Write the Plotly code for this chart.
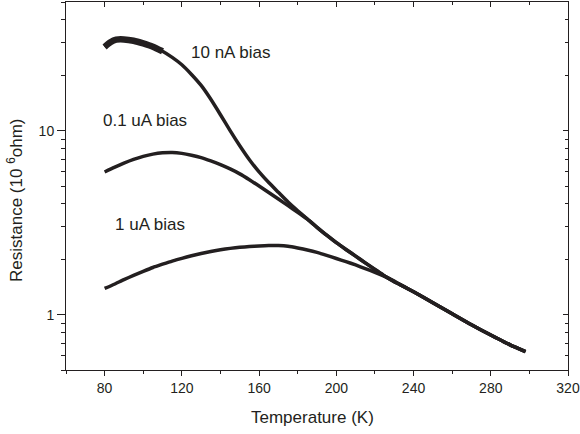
import math
import plotly.graph_objects as go

# ---- data ----
T_10nA = [80, 83, 86, 90, 95, 100, 105, 110, 115, 120, 125, 130, 135, 140, 145,
          150, 155, 160, 165, 170, 175, 180, 185, 190, 195, 200, 205, 210, 215,
          220, 225, 230, 235, 240, 250, 260, 270, 280, 290, 298]
R_10nA = [28.5, 30.2, 31.2, 31.3, 30.8, 29.8, 28.6, 27.0, 25.0, 22.8, 20.2, 17.6,
          14.8, 12.2, 10.0, 8.28, 6.95, 5.96, 5.22, 4.62, 4.09, 3.67, 3.31, 2.98,
          2.70, 2.46, 2.26, 2.08, 1.91, 1.76, 1.62, 1.51, 1.42, 1.33, 1.16, 1.01,
          0.88, 0.775, 0.685, 0.63]

T_01uA = [80, 85, 90, 95, 100, 105, 110, 115, 120, 125, 130, 135, 140, 145, 150,
          155, 160, 165, 170, 175, 180, 185, 190, 195, 200, 205, 210, 215, 220,
          225, 230, 235, 240, 250, 260, 270, 280, 290, 298]
R_01uA = [5.96, 6.31, 6.65, 6.97, 7.24, 7.45, 7.57, 7.60, 7.52, 7.35, 7.13, 6.84,
          6.53, 6.19, 5.82, 5.41, 5.00, 4.61, 4.25, 3.91, 3.60, 3.30, 2.98, 2.70,
          2.46, 2.26, 2.08, 1.91, 1.76, 1.62, 1.51, 1.42, 1.33, 1.16, 1.01, 0.88,
          0.775, 0.685, 0.63]

T_1uA = [80, 85, 90, 95, 100, 105, 110, 115, 120, 125, 130, 135, 140, 145, 150,
         155, 160, 165, 170, 175, 180, 185, 190, 195, 200, 205, 210, 215, 220,
         225, 230, 235, 240, 250, 260, 270, 280, 290, 298]
R_1uA = [1.387, 1.462, 1.549, 1.633, 1.718, 1.803, 1.879, 1.954, 2.023, 2.089,
         2.148, 2.203, 2.249, 2.291, 2.323, 2.344, 2.360, 2.371, 2.371, 2.350,
         2.301, 2.244, 2.178, 2.099, 2.018, 1.941, 1.862, 1.778, 1.698, 1.614,
         1.524, 1.42, 1.33, 1.16, 1.01, 0.88, 0.775, 0.685, 0.63]

x_ticks = [80, 120, 160, 200, 240, 280, 320]
y_ticks = [1, 10]
y_tick_text = ["1", "10"]
y_minor = [0.5, 0.6, 0.7, 0.8, 0.9, 2, 3, 4, 5, 6, 7, 8, 9, 20, 30, 40, 50]

labels = ["10 nA bias", "0.1 uA bias", "1 uA bias"]
label_T = [145.2, 101.0, 103.5]
label_R = [26.7, 11.33, 3.07]

INK = "#231f20"
FONT = "Liberation Sans, Arial, Helvetica, sans-serif"

fig = go.Figure()
for T, R in [(T_10nA, R_10nA), (T_01uA, R_01uA), (T_1uA, R_1uA)]:
    fig.add_trace(go.Scatter(x=T, y=R, mode="lines",
                             line=dict(color=INK, width=3.5, shape="spline", smoothing=0.5),
                             showlegend=False, hoverinfo="skip"))
# the noisy low-temperature part of the 10 nA trace is drawn as a wider band
fig.add_trace(go.Scatter(x=T_10nA[:8], y=R_10nA[:8], mode="lines",
                         line=dict(color=INK, width=6.5, shape="spline", smoothing=0.5),
                         showlegend=False, hoverinfo="skip"))
# dummy trace for mirrored axes
fig.add_trace(go.Scatter(x=[None], y=[None], xaxis="x2", yaxis="y2",
                         showlegend=False, hoverinfo="skip"))

yr = [math.log10(0.5), math.log10(50)]

common = dict(showline=True, linecolor=INK, linewidth=1, showgrid=False,
              zeroline=False, tickcolor=INK, tickwidth=1)

fig.update_layout(
    width=580, height=434,
    margin=dict(l=66, r=12, t=2, b=64),
    paper_bgcolor="white", plot_bgcolor="white",
    font=dict(family=FONT, color=INK, size=14),
    xaxis=dict(range=[60, 320], tickmode="array", tickvals=x_ticks, ticks="outside",
               ticklen=5, automargin=False,
               minor=dict(tickmode="linear", tick0=60, dtick=20, ticks="outside",
                          ticklen=3, tickcolor=INK, tickwidth=1),
               tickfont=dict(size=14), **common),
    yaxis=dict(type="log", range=yr, tickmode="array", tickvals=y_ticks,
               ticktext=y_tick_text, ticks="outside", ticklen=8, automargin=False,
               minor=dict(tickmode="array", tickvals=y_minor, ticks="outside",
                          ticklen=4, tickcolor=INK, tickwidth=1),
               tickfont=dict(size=14), **common),
    xaxis2=dict(overlaying="x", side="top", range=[60, 320], tickmode="array",
                tickvals=x_ticks, ticks="inside", ticklen=5, showticklabels=False,
                minor=dict(tickmode="linear", tick0=60, dtick=20, ticks="inside",
                           ticklen=3, tickcolor=INK, tickwidth=1),
                **common),
    yaxis2=dict(overlaying="y", side="right", type="log", range=yr, tickmode="array",
                tickvals=y_ticks, ticks="inside", ticklen=5, showticklabels=False,
                minor=dict(tickmode="array", tickvals=y_minor, ticks="inside",
                           ticklen=3, tickcolor=INK, tickwidth=1),
                **common),
)

for txt, tx, ty in zip(labels, label_T, label_R):
    fig.add_annotation(x=tx, y=math.log10(ty), xref="x", yref="y", text=txt,
                       showarrow=False, font=dict(size=17, color=INK, family=FONT),
                       xanchor="center", yanchor="middle")

fig.add_annotation(x=0.491, y=-0.130, xref="paper", yref="paper",
                   text="Temperature (K)", showarrow=False,
                   font=dict(size=17, color=INK, family=FONT),
                   xanchor="center", yanchor="middle")
fig.add_annotation(x=-0.1016, y=0.462, xref="paper", yref="paper",
                   text="Resistance (10 <sup>6</sup>ohm)", textangle=-90,
                   showarrow=False, font=dict(size=17, color=INK, family=FONT),
                   xanchor="center", yanchor="middle")

fig.write_html("out.html",
               config={"displayModeBar": False},
               post_script="document.body.style.margin='0';document.body.style.overflow='hidden';")
